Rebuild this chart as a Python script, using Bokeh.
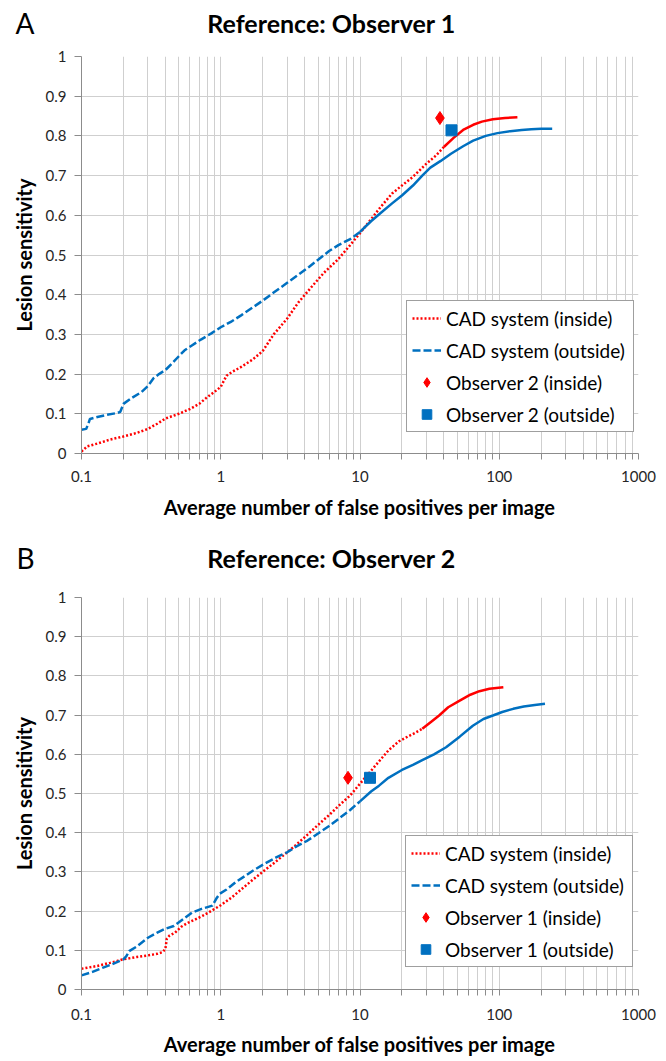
from bokeh.plotting import figure
from bokeh.layouts import column
from bokeh.models import (FixedTicker, CustomJSTickFormatter, Legend, LegendItem, Range1d)
from bokeh.core.properties import value
from bokeh.embed import file_html
from bokeh.resources import INLINE

FONT = "Lato"
RED = "#FF0000"
BLUE = "#0070C0"
GRID = "#cfcfcf"
W = 666
LB, RB = 81, 28          # common left/right borders (frames are aligned in a column)

x_ticks = [0.1, 1, 10, 100, 1000]
x_minor = [m * d for d in [0.1, 1, 10, 100] for m in range(2, 10)]
y_ticks = [0, 0.1, 0.2, 0.3, 0.4, 0.5, 0.6, 0.7, 0.8, 0.9, 1.0]

# ---------------- Panel A: Reference = Observer 1 ----------------
a_in_x = [0.1, 0.11, 0.13, 0.16, 0.2, 0.25, 0.3, 0.35, 0.4, 0.5, 0.6, 0.7, 0.8, 0.9, 1.0,
          1.1, 1.2, 1.4, 1.7, 2.0, 2.4, 3.0, 3.6, 4.5, 5.5, 7.0, 8.5, 10, 12, 14, 17, 20,
          24, 30, 35, 40, 47, 55, 65, 75, 90, 110, 135]
a_in_y = [0.005, 0.018, 0.025, 0.035, 0.043, 0.052, 0.062, 0.075, 0.088, 0.100, 0.112, 0.125,
          0.142, 0.155, 0.168, 0.196, 0.205, 0.218, 0.237, 0.258, 0.30, 0.34, 0.38, 0.42,
          0.455, 0.49, 0.525, 0.555, 0.59, 0.62, 0.655, 0.675, 0.697, 0.73, 0.75, 0.772,
          0.795, 0.815, 0.828, 0.836, 0.842, 0.845, 0.847]
a_out_x = [0.1, 0.108, 0.112, 0.115, 0.13, 0.15, 0.18, 0.19, 0.2, 0.23, 0.27, 0.3, 0.33, 0.36,
           0.4, 0.45, 0.5, 0.55, 0.62, 0.72, 0.85, 1.0, 1.2, 1.4, 1.7, 2.0, 2.5, 3.0, 3.6, 4.3,
           5.0, 6.0, 7.0, 8.5, 10, 12, 14, 17, 20, 24, 28, 32, 38, 45, 55, 65, 80, 97, 120,
           145, 170, 200, 240]
a_out_y = [0.06, 0.062, 0.075, 0.087, 0.092, 0.097, 0.102, 0.105, 0.125, 0.14, 0.155, 0.17,
           0.19, 0.2, 0.21, 0.228, 0.245, 0.26, 0.272, 0.287, 0.302, 0.318, 0.333, 0.348,
           0.368, 0.385, 0.41, 0.43, 0.45, 0.47, 0.488, 0.51, 0.525, 0.54, 0.558, 0.585,
           0.605, 0.63, 0.65, 0.675, 0.7, 0.72, 0.737, 0.755, 0.774, 0.788, 0.8, 0.807, 0.812,
           0.815, 0.817, 0.818, 0.818]
a_obs_in = ([37.5], [0.845])
a_obs_out = ([45.4], [0.814])

# ---------------- Panel B: Reference = Observer 2 ----------------
b_in_x = [0.1, 0.13, 0.16, 0.2, 0.25, 0.3, 0.35, 0.38, 0.4, 0.41, 0.43, 0.47, 0.52, 0.58,
          0.65, 0.74, 0.85, 1.0, 1.2, 1.4, 1.7, 2.0, 2.5, 3.0, 3.5, 4.2, 5.0, 6.0, 7.0, 8.5,
          10, 12, 13.7, 16, 19, 22, 25, 28, 33, 37, 43, 52, 62, 72, 85, 107]
b_in_y = [0.053, 0.06, 0.068, 0.077, 0.083, 0.087, 0.091, 0.095, 0.103, 0.13, 0.138, 0.145,
          0.16, 0.17, 0.178, 0.188, 0.2, 0.215, 0.235, 0.255, 0.28, 0.30, 0.327, 0.35, 0.37,
          0.395, 0.42, 0.445, 0.468, 0.495, 0.525, 0.558, 0.582, 0.61, 0.633, 0.645, 0.655,
          0.665, 0.685, 0.699, 0.72, 0.737, 0.752, 0.761, 0.767, 0.771]
b_out_x = [0.1, 0.12, 0.143, 0.17, 0.2, 0.21, 0.22, 0.25, 0.3, 0.35, 0.4, 0.46, 0.54, 0.62,
           0.72, 0.87, 0.93, 0.98, 1.1, 1.28, 1.5, 1.7, 2.0, 2.5, 3.0, 3.5, 4.2, 5.0, 6.0, 7.0,
           8.5, 10, 12, 13.7, 16, 20, 24, 28, 34, 41.5, 52, 64.6, 77, 90, 105, 126, 150, 180,
           213]
b_out_y = [0.036, 0.045, 0.056, 0.066, 0.077, 0.085, 0.098, 0.11, 0.132, 0.145, 0.155, 0.162,
           0.18, 0.196, 0.205, 0.214, 0.232, 0.244, 0.255, 0.274, 0.29, 0.303, 0.318, 0.337,
           0.35, 0.365, 0.38, 0.398, 0.417, 0.435, 0.458, 0.48, 0.505, 0.52, 0.54, 0.56,
           0.573, 0.585, 0.6, 0.618, 0.645, 0.673, 0.69, 0.699, 0.708, 0.716, 0.722, 0.726,
           0.729]
b_obs_in = ([8.2], [0.54])
b_obs_out = ([11.8], [0.54])


def split(xs, ys, cut):
    """Patterned part up to cut, dense (solid-looking) part from cut on."""
    i = max(k for k, v in enumerate(xs) if v <= cut)
    return (xs[:i + 1], ys[:i + 1]), (xs[i:], ys[i:])


def header(letter, title, height):
    # x data units == page pixels inside the frame
    h = figure(width=W, height=height, x_range=Range1d(LB, W - RB),
               y_range=Range1d(0, height), output_backend="svg", toolbar_location=None,
               min_border_left=LB, min_border_right=RB, min_border_top=0,
               min_border_bottom=0, x_axis_location=None, y_axis_location="left")
    h.grid.visible = False
    h.outline_line_color = None
    ax = h.yaxis[0]
    ax.ticker = FixedTicker(ticks=[])
    ax.axis_line_color = None
    ax.major_tick_line_color = None
    ax.minor_tick_line_color = None
    ax.major_tick_out = 0
    ax.minor_tick_out = 0
    ax.major_label_text_font_size = "0px"
    ax.axis_label = letter
    ax.axis_label_orientation = "horizontal"
    ax.axis_label_text_font = FONT
    ax.axis_label_text_font_style = "normal"
    ax.axis_label_text_font_size = "28px"
    ax.axis_label_text_color = "#000000"
    ax.axis_label_standoff = 47
    h.text(x=[331], y=[height / 2], text=[title], text_font=value(FONT),
           text_font_style="bold", text_font_size=value("25px"), text_align="center",
           text_baseline="middle", text_color="#000000")
    return h


def make_panel(obs_name, d_in, d_out, obs_in, obs_out, cut_in, cut_out,
               height, tb, xstand, legend_xy):
    top, bottom = tb
    p = figure(width=W, height=height, x_axis_type="log",
               x_range=Range1d(0.1, 1000), y_range=Range1d(0, 1),
               output_backend="svg", toolbar_location=None,
               min_border_left=LB, min_border_right=RB,
               min_border_top=top, min_border_bottom=bottom)
    p.outline_line_color = None
    p.background_fill_color = "white"

    p.xaxis.ticker = FixedTicker(ticks=x_ticks, minor_ticks=x_minor)
    p.xaxis.formatter = CustomJSTickFormatter(code="return tick.toString();")
    p.yaxis.ticker = FixedTicker(ticks=y_ticks)
    p.yaxis.formatter = CustomJSTickFormatter(
        code="return (Math.round(tick*10)/10).toString();")
    for ax in (p.xaxis[0], p.yaxis[0]):
        ax.axis_line_color = "#8c8c8c"
        ax.major_tick_line_color = "#8c8c8c"
        ax.minor_tick_line_color = "#8c8c8c"
        ax.major_tick_in = 0
        ax.major_tick_out = 6
        ax.minor_tick_in = 0
        ax.major_label_text_font = FONT
        ax.major_label_text_font_size = "15px"
        ax.major_label_text_color = "#262626"
        ax.axis_label_text_font = FONT
        ax.axis_label_text_font_style = "bold"
        ax.axis_label_text_font_size = "20px"
        ax.axis_label_text_color = "#000000"
    p.xaxis.minor_tick_out = 6
    p.yaxis.minor_tick_out = 0
    p.yaxis.major_tick_out = 7
    p.xaxis.major_label_standoff = xstand[0]
    p.xaxis.axis_label_standoff = xstand[1]
    p.yaxis.major_label_standoff = 8
    p.yaxis.axis_label_standoff = 7
    p.xaxis.axis_label = "Average number of false positives per image"
    p.yaxis.axis_label = "Lesion sensitivity"

    p.xgrid.ticker = FixedTicker(ticks=x_ticks, minor_ticks=x_minor)
    p.xgrid.grid_line_color = GRID
    p.xgrid.minor_grid_line_color = GRID
    p.ygrid.ticker = FixedTicker(ticks=y_ticks)
    p.ygrid.grid_line_color = GRID

    (ix1, iy1), (ix2, iy2) = split(d_in[0], d_in[1], cut_in)
    (ox1, oy1), (ox2, oy2) = split(d_out[0], d_out[1], cut_out)
    r_in = p.line(ix1, iy1, line_color=RED, line_width=2.5, line_dash="2 2")
    p.line(ix2, iy2, line_color=RED, line_width=2.5)
    r_out = p.line(ox1, oy1, line_color=BLUE, line_width=2.5, line_dash="8 3")
    p.line(ox2, oy2, line_color=BLUE, line_width=2.5)
    r_oi = p.scatter(obs_in[0], obs_in[1], marker="diamond", size=13,
                     fill_color=RED, line_color=RED)
    r_oo = p.scatter(obs_out[0], obs_out[1], marker="square", size=11,
                     fill_color=BLUE, line_color=BLUE)

    legend = Legend(items=[
        LegendItem(label="CAD system (inside)", renderers=[r_in]),
        LegendItem(label="CAD system (outside)", renderers=[r_out]),
        LegendItem(label=f"{obs_name} (inside)", renderers=[r_oi]),
        LegendItem(label=f"{obs_name} (outside)", renderers=[r_oo]),
    ])
    legend.location = legend_xy
    legend.margin = 0
    legend.border_line_color = "#404040"
    legend.border_line_width = 1
    legend.background_fill_alpha = 1
    legend.label_text_font = FONT
    legend.label_text_font_size = "19px"
    legend.label_text_color = "#000000"
    legend.glyph_width = 29
    legend.glyph_height = 24
    legend.label_height = 24
    legend.label_width = 182
    legend.label_standoff = 5
    legend.spacing = 8
    legend.padding = 5
    p.add_layout(legend, "center")
    return p


FW = W - LB - RB
hA = header("A", "Reference: Observer 1", 44)
pA = make_panel("Observer 2", (a_in_x, a_in_y), (a_out_x, a_out_y), a_obs_in, a_obs_out,
                40, 10, 491, (12, 82), (11, 10), (FW - 6 - 226, 21))
hB = header("B", "Reference: Observer 2", 44)
pB = make_panel("Observer 1", (b_in_x, b_in_y), (b_out_x, b_out_y), b_obs_in, b_obs_out,
                28, 10, 482, (18, 72), (13, 9), (FW - 7 - 226, 22))

layout = column(hA, pA, hB, pB)
open("out.html", "w").write(file_html(layout, INLINE))
